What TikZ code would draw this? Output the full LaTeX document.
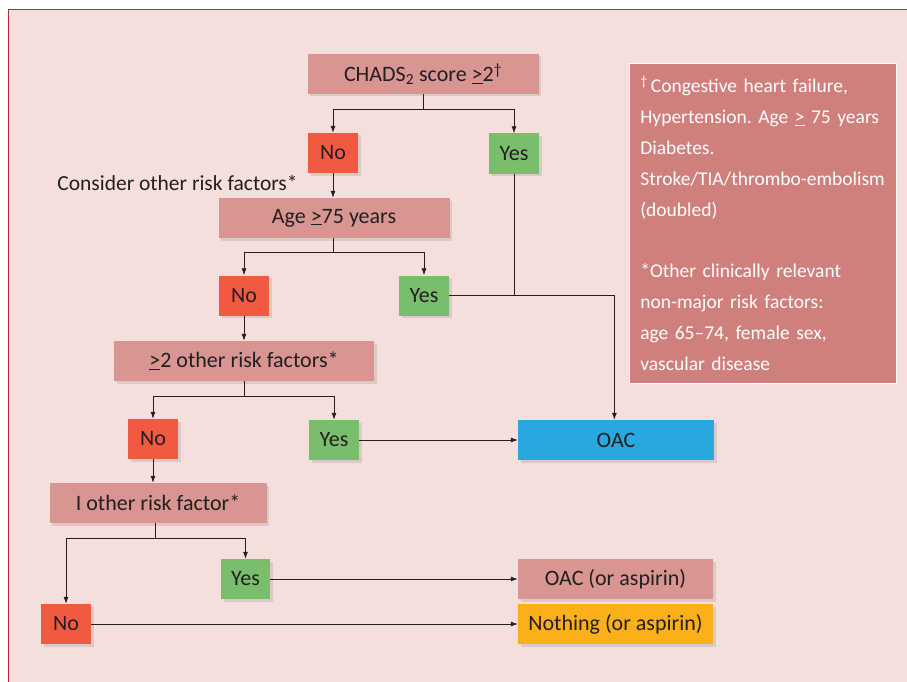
\documentclass[tikz,border=0pt]{standalone}
\usepackage{fontspec}
\setmainfont{Carlito}
\usetikzlibrary{arrows.meta,shadows}
\definecolor{bg}{HTML}{F4DFDD}
\definecolor{framered}{HTML}{C4213F}
\definecolor{pinkbox}{HTML}{D89591}
\definecolor{infobox}{HTML}{CF7F7C}
\definecolor{nored}{HTML}{F15A40}
\definecolor{yesgreen}{HTML}{78BE6C}
\definecolor{oacblue}{HTML}{29A8E0}
\definecolor{nothingyellow}{HTML}{FBB01A}
\definecolor{txt}{HTML}{231F20}
\tikzset{
  basefont/.style={font=\fontsize{22}{26}\selectfont},
  infofont/.style={font=\fontsize{19.5}{30.8}\selectfont\frenchspacing},
  box/.style={rectangle, inner sep=0pt, minimum height=40pt, text=txt, basefont,
    drop shadow={shadow xshift=2.5pt, shadow yshift=-2.5pt, opacity=0.25, fill=black!45}},
  pinknode/.style={box, fill=pinkbox},
  nonode/.style={box, fill=nored, minimum width=50pt},
  yesnode/.style={box, fill=yesgreen, minimum width=50pt},
  conn/.style={draw=txt, line width=0.8pt},
  arr/.style={conn, -{Latex[length=7pt,width=5pt]}},
}
\begin{document}
\begin{tikzpicture}[x=1pt,y=-1pt]
\useasboundingbox (0,0) rectangle (907,682);
\fill[bg] (8.5,10) rectangle (907,682);
\draw[framered, line width=1pt] (8.5,682) -- (8.5,10) -- (907,10);

% info box
\node[rectangle, fill=infobox, draw=white, line width=0.6pt, minimum width=267pt, minimum height=320pt,
      inner xsep=11pt, inner ysep=0pt, text width=245pt, align=left, text=white, infofont,
      anchor=north west] (info) at (629,62.7)
  {\textsuperscript{†}\,Congestive heart failure,\\
   Hypertension. Age \underline{>} 75 years\\
   Diabetes.\\
   Stroke/TIA/thrombo-embolism\\
   (doubled)\\
   \mbox{}\\
   \relax{*}Other clinically relevant\\
   non-major risk factors:\\
   age 65–74, female sex,\\
   vascular disease};

% nodes
\node[pinknode, minimum width=231pt] (chads) at (423,74) {CHADS\textsubscript{2} score \underline{>}2\textsuperscript{†}};
\node[nonode] (no1) at (333,153) {No};
\node[yesnode] (yes1) at (514,153.5) {Yes};
\node[text=txt, font=\fontsize{21.5}{26}\selectfont, inner sep=0pt] (consider) at (177.5,183) {Consider other risk factors*};
\node[pinknode, minimum width=231pt] (age) at (334,218) {Age \underline{>}75 years};
\node[nonode] (no2) at (244,295.5) {No};
\node[yesnode] (yes2) at (424,295.5) {Yes};
\node[pinknode, minimum width=260pt] (two) at (244,361) {\underline{>}2 other risk factors*};
\node[nonode] (no3) at (153,439) {No};
\node[yesnode] (yes3) at (334,440) {Yes};
\node[box, fill=oacblue, minimum width=196pt] (oac) at (616,440) {OAC};
\node[pinknode, minimum width=217pt] (one) at (158,503) {I other risk factor*};
\node[yesnode, minimum width=49pt] (yes4) at (245.5,579) {Yes};
\node[nonode] (no4) at (66,624) {No};
\node[pinknode, minimum width=195pt] (oacasp) at (615.5,579) {OAC (or aspirin)};
\node[box, fill=nothingyellow, minimum width=195pt] (nothing) at (615.5,624) {Nothing (or aspirin)};

% junction coordinates
\coordinate (j1) at (423,109);
\coordinate (j2) at (333.5,252.3);
\coordinate (j3) at (244.5,396.7);
\coordinate (j4) at (155,538.3);
\coordinate (joac) at (614.4,295.5);

% connectors
\draw[conn] (chads.south -| j1) -- (j1);
\draw[arr] (j1) -| (no1.north);
\draw[arr] (j1) -| (yes1.north);
\draw[arr] (no1.south) -- (no1.south |- age.north);
\draw[conn] (age.south -| j2) -- (j2);
\draw[arr] (j2) -| (no2.north);
\draw[arr] (j2) -| (yes2.north);
\draw[conn] (yes1.south) -- (yes1.south |- yes2.east);
\draw[arr] (yes2.east) -- (joac) -- (joac |- oac.north);
\draw[arr] (no2.south) -- (no2.south |- two.north);
\draw[conn] (two.south -| j3) -- (j3);
\draw[arr] (j3) -| (no3.north);
\draw[arr] (j3) -| (yes3.north);
\draw[arr] (yes3.east) -- (oac.west);
\draw[arr] (no3.south) -- (no3.south |- one.north);
\draw[conn] (one.south -| j4) -- (j4);
\draw[arr] (j4) -| (no4.north);
\draw[arr] (j4) -| (yes4.north);
\draw[arr] (yes4.east) -- (oacasp.west);
\draw[arr] (no4.east) -- (nothing.west);
\end{tikzpicture}
\end{document}
